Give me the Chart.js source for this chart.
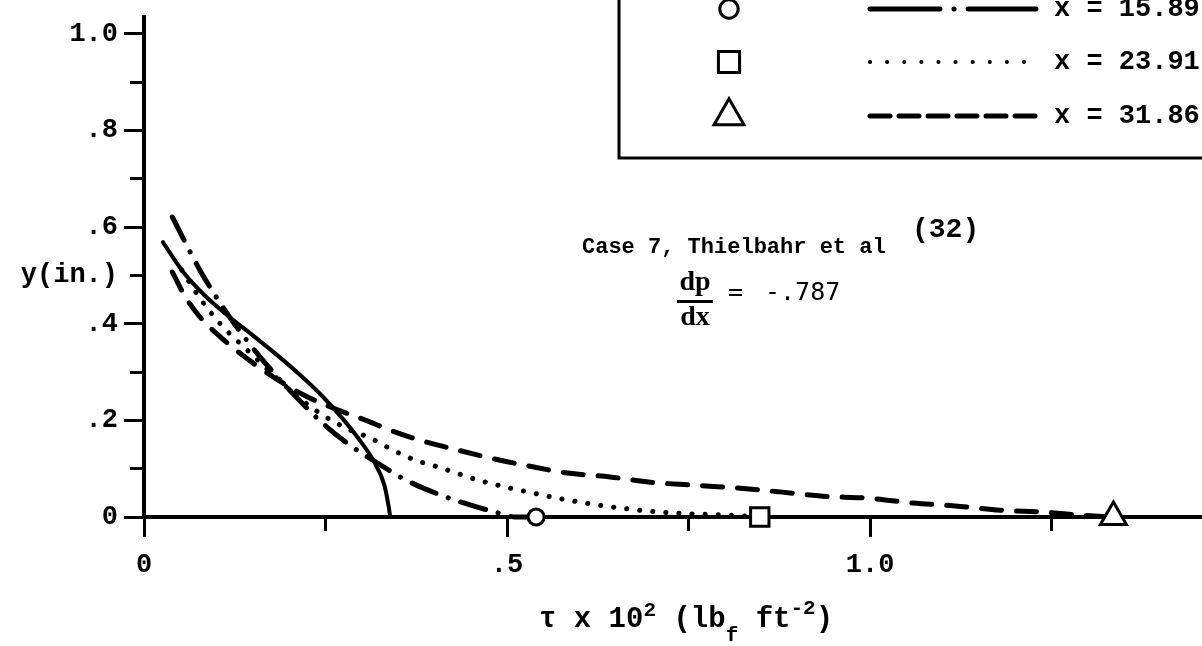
<!DOCTYPE html>
<html>
<head>
<meta charset="utf-8">
<title>Case 7 shear stress profiles</title>
<script src="https://cdn.jsdelivr.net/npm/chart.js@4.4.1/dist/chart.umd.min.js"></script>
<style>
  html, body { margin: 0; padding: 0; background: #fff; }
  #wrap { width: 1202px; height: 646px; }
</style>
</head>
<body>
<div id="wrap"><canvas id="profileChart" width="1202" height="646"></canvas></div>
<script>
// tau x 10^2 (lbf/ft^2) against y (in.), one curve per station
const solidTau = [0.026, 0.054, 0.084, 0.116, 0.149, 0.185, 0.215, 0.245, 0.275, 0.299, 0.317, 0.331, 0.337, 0.339];
const solidY   = [0.569, 0.507, 0.458, 0.416, 0.377, 0.333, 0.294, 0.251, 0.201, 0.155, 0.114, 0.066, 0.021, 0.0];

const x1589Tau = [0.039, 0.077, 0.116, 0.160, 0.208, 0.252, 0.287, 0.321, 0.360, 0.404, 0.449, 0.494, 0.511, 0.540];
const x1589Y   = [0.621, 0.511, 0.418, 0.331, 0.251, 0.186, 0.145, 0.112, 0.077, 0.048, 0.025, 0.006, 0.0, 0.0];

const x2391Tau = [0.052, 0.077, 0.105, 0.146, 0.201, 0.242, 0.284, 0.311, 0.342, 0.373, 0.404, 0.459, 0.534, 0.607, 0.683, 0.731, 0.803, 0.848];
const x2391Y   = [0.511, 0.453, 0.400, 0.340, 0.263, 0.215, 0.180, 0.164, 0.139, 0.118, 0.104, 0.077, 0.050, 0.029, 0.014, 0.008, 0.004, 0.0];

const x3186Tau = [0.039, 0.056, 0.077, 0.105, 0.139, 0.180, 0.222, 0.263, 0.304, 0.342, 0.380, 0.431, 0.477, 0.528, 0.583, 0.642, 0.697, 0.755, 0.817, 0.876, 0.935, 0.996, 1.059, 1.117, 1.179, 1.241, 1.289, 1.335];
const x3186Y   = [0.507, 0.458, 0.414, 0.373, 0.331, 0.288, 0.251, 0.224, 0.201, 0.178, 0.159, 0.139, 0.122, 0.106, 0.091, 0.083, 0.072, 0.066, 0.060, 0.052, 0.043, 0.039, 0.029, 0.023, 0.014, 0.010, 0.004, 0.0];

const stationLabels = ["x = 15.89", "x = 23.91", "x = 31.86"];

const xTicks = [0, 0.25, 0.5, 0.75, 1.0, 1.25];
const xTickLabels = ["0", "", ".5", "", "1.0", ""];
const yTicks = [0, 0.1, 0.2, 0.3, 0.4, 0.5, 0.6, 0.7, 0.8, 0.9, 1.0];
const yTickLabels = ["0", "", ".2", "", ".4", "y(in.)", ".6", "", ".8", "", "1.0"];

const MONO = '"Liberation Mono", "DejaVu Sans Mono", monospace';

function toPoints(xs, ys) {
  return xs.map((x, i) => ({ x: x, y: ys[i] }));
}

// only the last point of a curve gets its marker
function endMarker(size) {
  return function (ctx) {
    return ctx.dataIndex === ctx.dataset.data.length - 1 ? size : 0;
  };
}

function curve(xs, ys, dash, width, style, size) {
  return {
    data: toPoints(xs, ys),
    borderColor: "#000",
    borderWidth: width,
    borderDash: dash,
    borderCapStyle: "round",
    cubicInterpolationMode: "monotone",
    pointStyle: style,
    pointRadius: endMarker(size),
    markerSize: size,
    pointBorderWidth: 3,
    pointBorderColor: "#000",
    pointBackgroundColor: "#fff",
    clip: false,
  };
}

// no extra room around the axes, the plot runs to the canvas edge
function noPad(s) {
  s.paddingLeft = 0;
  s.paddingRight = 0;
  s.paddingTop = 0;
  s.paddingBottom = 0;
}

const legendDash = [[70, 14, 0.1, 14], [0.1, 17], [20, 9]];

const notesPlugin = {
  id: "notes",
  afterDraw(chart) {
    const ctx = chart.ctx;
    ctx.save();
    ctx.fillStyle = "#000";
    ctx.strokeStyle = "#000";

    // legend box, runs off the top and right edges
    ctx.lineWidth = 3;
    ctx.strokeRect(619, -20, 700, 178);
    const rowY = [9, 62, 116];
    for (let i = 0; i < 3; i++) {
      const ds = chart.data.datasets[i + 1];
      ctx.setLineDash([]);
      ctx.lineWidth = 3;
      ctx.fillStyle = "#fff";
      Chart.helpers.drawPoint(ctx, { pointStyle: ds.pointStyle, radius: ds.markerSize * 1.15, rotation: 0, borderWidth: 3 }, 729, rowY[i]);
      ctx.setLineDash(legendDash[i]);
      ctx.lineCap = "round";
      ctx.lineWidth = i === 1 ? 4 : 5;
      ctx.beginPath();
      ctx.moveTo(870, rowY[i]);
      ctx.lineTo(1036, rowY[i]);
      ctx.stroke();
      ctx.setLineDash([]);
      ctx.fillStyle = "#000";
      ctx.font = "bold 27px " + MONO;
      ctx.textBaseline = "middle";
      ctx.textAlign = "left";
      ctx.fillText(stationLabels[i], 1054, rowY[i]);
    }

    // case note
    ctx.font = "bold 22px " + MONO;
    ctx.fillText("Case 7, Thielbahr et al", 582, 247);
    ctx.font = "bold 28px " + MONO;
    ctx.fillText("(32)", 912, 230);

    // dp/dx = -.787
    ctx.font = "bold 28px \"Liberation Serif\", serif";
    ctx.textAlign = "center";
    ctx.fillText("dp", 695, 283);
    ctx.fillText("dx", 695, 318);
    ctx.fillRect(677, 300, 36, 3);
    ctx.textAlign = "left";
    ctx.font = "25px \"DejaVu Sans Mono\", monospace";
    ctx.fillText("=", 728, 293);
    ctx.fillText("-.787", 765, 293);

    // axis title with super/subscripts
    const parts = [
      { t: "\u03c4 x 10", dy: 0, size: 29 },
      { t: "2", dy: -11, size: 21 },
      { t: " (lb", dy: 0, size: 29 },
      { t: "f", dy: 14, size: 21 },
      { t: " ft", dy: 0, size: 29 },
      { t: "-2", dy: -13, size: 21 },
      { t: ")", dy: 0, size: 29 },
    ];
    ctx.textBaseline = "alphabetic";
    let cx = 539;
    for (const p of parts) {
      ctx.font = "bold " + p.size + "px " + MONO;
      ctx.fillText(p.t, cx, 627 + p.dy);
      cx += ctx.measureText(p.t).width;
    }
    ctx.restore();
  },
};

const ctx = document.getElementById("profileChart").getContext("2d");
const profileChart = new Chart(ctx, {
  type: "line",
  data: {
    datasets: [
      curve(solidTau, solidY, [], 4, "circle", 0),
      curve(x1589Tau, x1589Y, [26, 13, 0.1, 13], 5, "circle", 8),
      curve(x2391Tau, x2391Y, [0.1, 13], 5, "rect", 13),
      curve(x3186Tau, x3186Y, [20, 15], 5, "triangle", 15),
    ],
  },
  options: {
    responsive: false,
    animation: false,
    devicePixelRatio: 1,
    layout: { autoPadding: false, padding: { top: 17, right: 0, left: 0, bottom: 0 } },
    plugins: { legend: { display: false }, tooltip: { enabled: false } },
    scales: {
      x: {
        type: "linear",
        min: 0,
        max: 1.457,
        afterBuildTicks: (s) => { s.ticks = xTicks.map((v) => ({ value: v })); },
        afterFit: (s) => { s.height = 129; noPad(s); },
        border: { display: true, color: "#000", width: 4 },
        grid: {
          drawOnChartArea: false,
          drawTicks: true,
          tickLength: 20,
          tickWidth: 3,
          tickColor: "#000",
          tickBorderDash: (c) => (xTickLabels[c.index] ? [] : [12, 100]),
        },
        ticks: {
          autoSkip: false,
          maxRotation: 0,
          padding: 12,
          color: "#000",
          font: { family: MONO, size: 27, weight: "bold" },
          callback: (v, i) => xTickLabels[i],
        },
      },
      y: {
        type: "linear",
        min: 0,
        max: 1.035,
        afterBuildTicks: (s) => { s.ticks = yTicks.map((v) => ({ value: v })); },
        afterFit: (s) => { s.width = 144; noPad(s); },
        border: { display: true, color: "#000", width: 4 },
        grid: {
          drawOnChartArea: false,
          drawTicks: true,
          tickLength: 20,
          tickWidth: 3,
          tickColor: "#000",
          tickBorderDash: (c) => (yTickLabels[c.index] && yTickLabels[c.index] !== "y(in.)" ? [] : [0, 6, 14, 100]),
        },
        ticks: {
          padding: 6,
          color: "#000",
          font: { family: MONO, size: 27, weight: "bold" },
          callback: (v, i) => yTickLabels[i],
        },
      },
    },
  },
  plugins: [notesPlugin],
});
</script>
</body>
</html>
